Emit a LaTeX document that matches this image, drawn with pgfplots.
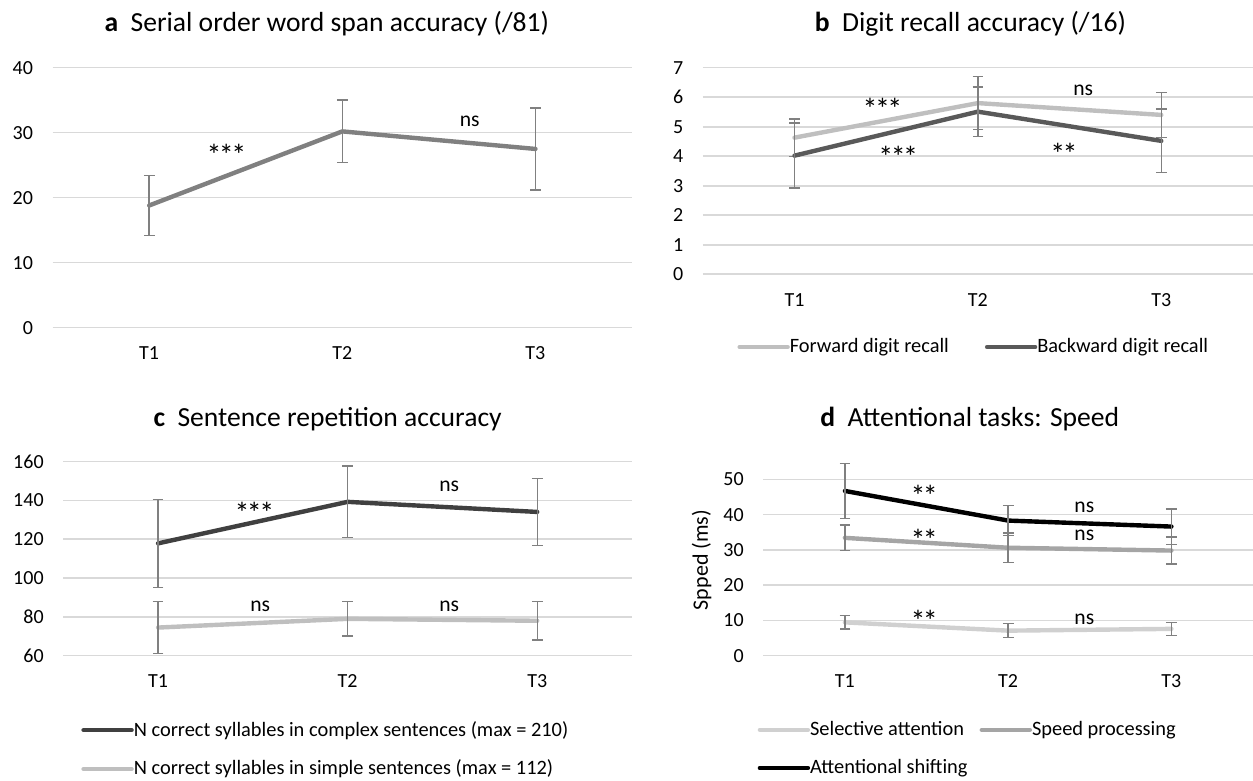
\documentclass[border=0pt]{standalone}
\usepackage{fontspec}
\setmainfont{Carlito}
\usepackage{pgfplots}
\pgfplotsset{compat=1.18}
\usepackage{pgfplotstable}

\definecolor{gridc}{HTML}{D9D9D9}
\definecolor{errc}{HTML}{808080}
\definecolor{ca}{HTML}{808080}
\definecolor{light}{HTML}{BFBFBF}
\definecolor{dark}{HTML}{595959}
\definecolor{darker}{HTML}{404040}
\definecolor{vlight}{HTML}{D0D0D0}
\definecolor{mid}{HTML}{A5A5A5}

\pgfplotstableread{
x y e
1 18.8 4.6
2 30.2 4.8
3 27.5 6.3
}\tabA
\pgfplotstableread{
x y e
1 4.63 0.63
2 5.80 0.90
3 5.40 0.76
}\tabBf
\pgfplotstableread{
x y e
1 4.02 1.10
2 5.51 0.84
3 4.52 1.08
}\tabBb
\pgfplotstableread{
x y e
1 117.9 22.7
2 139.3 18.5
3 134.1 17.3
}\tabCc
\pgfplotstableread{
x y e
1 74.5 13.3
2 79.0 8.8
3 78.0 9.9
}\tabCs
\pgfplotstableread{
x y e
1 46.7 7.8
2 38.3 4.3
3 36.6 5.0
}\tabDsh
\pgfplotstableread{
x y e
1 33.4 3.6
2 30.6 4.2
3 29.8 3.8
}\tabDsp
\pgfplotstableread{
x y e
1 9.45 1.9
2 7.1 2.0
3 7.6 1.85
}\tabDse

\pgfplotsset{
  exc/.style={
    scale only axis, clip=false,
    axis line style={draw=none},
    major tick length=0pt,
    xmin=0.5, xmax=3.5,
    ymajorgrids, grid style={gridc, line width=0.8pt},
    xtick={1,2,3}, xticklabels={T1,T2,T3},
    tick label style={font=\fontsize{10}{11}\selectfont},
    /pgf/number format/assume math mode=true,
    yticklabel style={anchor=east, xshift=-6.3pt},
    xticklabel style={yshift=-6pt},
    anchor=south west,
    legend cell align=left,
    legend style={draw=none, fill=none, inner sep=0pt, font=\fontsize{10.2}{11}\selectfont,
      nodes={inner sep=1pt},
      /tikz/every odd column/.append style={column sep=-1pt}},
    legend image code/.code={\draw[#1, line width=2.2pt] (0pt,0pt) -- (24pt,0pt);},
  },
  ser/.style={line width=2.2pt, line cap=round, line join=round, mark=none, color=#1,
     error bars/.cd, y dir=both, y explicit,
     error bar style={errc, line width=0.7pt, line cap=butt},
     error mark options={errc, rotate=90, mark size=2.7pt, line width=0.7pt}},
}
\tikzset{stars/.style={font=\fontsize{15}{15}\selectfont, yshift=-3.1pt, inner sep=0pt}}
\newcommand{\ann}{\fontsize{10.8}{11}\selectfont}
\newcommand{\ttl}{\fontsize{13.8}{15}\selectfont}
\newcommand{\three}{*\kern-1.3pt*\kern-1.3pt*}
\newcommand{\two}{*\kern-1.3pt*}

\begin{document}
\begin{tikzpicture}
\path[use as bounding box] (0pt,0pt) rectangle (626.5pt,390.5pt);

% panel a
\begin{axis}[exc, at={(26.3pt,226.65pt)}, width=289.7pt, height=130pt,
  ymin=0, ymax=40, ytick={0,10,20,30,40}]
\addplot[ser=ca] table[x=x,y=y,y error=e] {\tabA};
\node[stars] at (axis cs:1.40,27.5) {\three};
\node[font=\ann] at (axis cs:2.66,31.8) {ns};
\end{axis}

% panel b
\begin{axis}[exc, at={(351.4pt,253.35pt)}, width=275.1pt, height=103.3pt,
  ymin=0, ymax=7, ytick={0,1,...,7},
  legend columns=2,
  legend style={at={(0.4925,-0.352)}, anchor=center,
    /tikz/every even column/.append style={column sep=17pt}}]
\addplot[ser=light] table[x=x,y=y,y error=e] {\tabBf};
\addlegendentry{Forward digit recall}
\addplot[ser=dark] table[x=x,y=y,y error=e] {\tabBb};
\addlegendentry{Backward digit recall}
\node[stars] at (axis cs:1.48,5.80) {\three};
\node[stars] at (axis cs:1.566,4.18) {\three};
\node[font=\ann] at (axis cs:2.574,6.22) {ns};
\node[stars] at (axis cs:2.469,4.30) {\two};
\end{axis}

% panel c
\begin{axis}[exc, at={(31.65pt,62.65pt)}, width=284.35pt, height=97pt,
  ymin=60, ymax=160, ytick={60,80,...,160},
  legend columns=1,
  legend style={at={(axis description cs:0.0311,-0.325)}, anchor=north west,
    row sep=8.5pt}]
\addplot[ser=darker] table[x=x,y=y,y error=e] {\tabCc};
\addlegendentry{N correct syllables in complex sentences (max = 210)}
\addplot[ser=light] table[x=x,y=y,y error=e] {\tabCs};
\addlegendentry{N correct syllables in simple sentences (max = 112)}
\node[stars] at (axis cs:1.508,136.8) {\three};
\node[font=\ann] at (axis cs:2.536,147.1) {ns};
\node[font=\ann] at (axis cs:1.539,85.3) {ns};
\node[font=\ann] at (axis cs:2.536,85.3) {ns};
\end{axis}

% panel d
\begin{axis}[exc, at={(381.65pt,62.65pt)}, width=244.85pt, height=88.2pt,
  ymin=0, ymax=50, ytick={0,10,...,50},
  ylabel={Spped (ms)},
  ylabel style={font=\fontsize{11}{12}\selectfont, at={(axis description cs:-0.1258,0.5425)}, anchor=center},
  legend columns=2,
  legend style={at={(axis description cs:-0.0123,-0.358)}, anchor=north west,
    row sep=8.5pt, /tikz/every even column/.append style={column sep=5pt}}]
\addplot[ser=vlight] table[x=x,y=y,y error=e] {\tabDse};
\addlegendentry{Selective attention}
\addplot[ser=mid] table[x=x,y=y,y error=e] {\tabDsp};
\addlegendentry{Speed processing}
\addplot[ser=black] table[x=x,y=y,y error=e] {\tabDsh};
\addlegendentry{Attentional shifting}
\node[stars] at (axis cs:1.486,47.0) {\two};
\node[stars] at (axis cs:1.486,34.5) {\two};
\node[stars] at (axis cs:1.486,11.5) {\two};
\node[font=\ann] at (axis cs:2.467,42.0) {ns};
\node[font=\ann] at (axis cs:2.467,34.2) {ns};
\node[font=\ann] at (axis cs:2.467,10.3) {ns};
\end{axis}

% titles
\node[font=\ttl] at (163.4pt,378.5pt) {\textbf{a}\hspace{0.45em}Serial order word span accuracy (/81)};
\node[font=\ttl] at (485.2pt,378.5pt) {\textbf{b}\hspace{0.45em}Digit recall accuracy (/16)};
\node[font=\ttl] at (163.8pt,181pt) {\textbf{c}\hspace{0.45em}Sentence repetition accuracy};
\node[font=\ttl] at (484.9pt,181pt) {\textbf{d}\hspace{0.45em}Attentional tasks: Speed};
\end{tikzpicture}
\end{document}
